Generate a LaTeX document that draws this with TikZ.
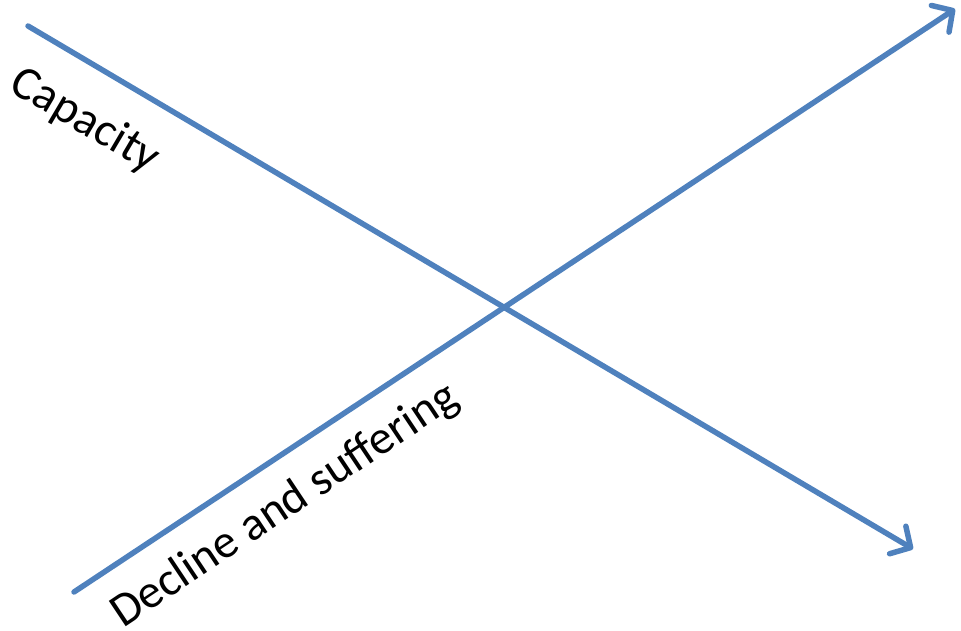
\documentclass[tikz,border=0pt]{standalone}
\usepackage{fontspec}
\setmainfont{Carlito}
\usetikzlibrary{arrows.meta}
\definecolor{officeblue}{HTML}{4F81BD}
\tikzset{
  axisline/.style={draw=officeblue, line width=5.5pt, line cap=round,
    -{Straight Barb[length=15pt,width=32pt,line width=5.5pt,round]}},
  lbl/.style={font=\fontsize{47.5}{54}\selectfont, inner sep=0pt}
}
\begin{document}
\begin{tikzpicture}[x=1pt,y=-1pt]
\useasboundingbox (0,0) rectangle (961,631);
\coordinate (a1) at (28,26);
\coordinate (a2) at (913,549);
\coordinate (b1) at (74,592);
\coordinate (b2) at (955,9);
\draw[axisline] (a1) -- (a2);
\draw[axisline] (b1) -- (b2);
\node[lbl, rotate=-30.5] (cap) at (85,121) {Capacity};
\node[lbl, rotate=33.7] (dec) at (285,506) {Decline and suffering};
\end{tikzpicture}
\end{document}
